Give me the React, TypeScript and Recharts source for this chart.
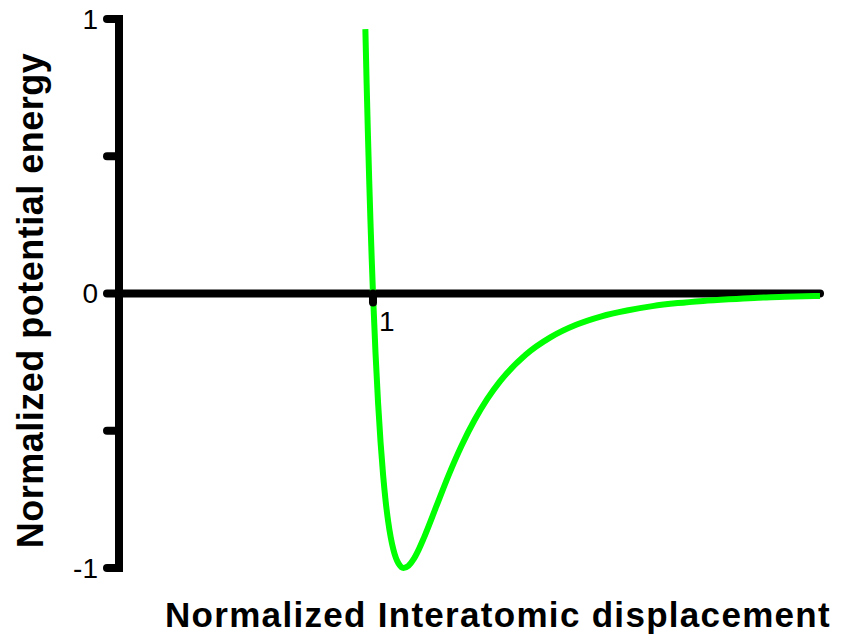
import { LineChart, Line, XAxis, YAxis, ReferenceLine, ReferenceDot } from "recharts";

// normalized interatomic displacement (r / sigma)
const displacement = [
  0.97, 0.975, 0.98, 0.985, 0.99, 0.995, 1.0, 1.01, 1.02, 1.03, 1.04, 1.05, 1.06, 1.07,
  1.08, 1.09, 1.1, 1.12, 1.14, 1.16, 1.18, 1.2, 1.25, 1.3, 1.35, 1.4, 1.45, 1.5, 1.6,
  1.7, 1.8, 1.9, 2.0, 2.1, 2.2, 2.3, 2.4, 2.5, 2.6, 2.7, 2.76,
];

// normalized potential energy at each displacement
const energy = [
  0.963, 0.764, 0.582, 0.416, 0.264, 0.126, 0.0, -0.218, -0.398, -0.544, -0.663, -0.758,
  -0.832, -0.889, -0.932, -0.963, -0.983, -1.0, -0.992, -0.968, -0.933, -0.891, -0.774,
  -0.657, -0.552, -0.461, -0.384, -0.32, -0.224, -0.159, -0.114, -0.083, -0.062, -0.046,
  -0.035, -0.027, -0.021, -0.016, -0.013, -0.01, -0.009,
];

const yTicks = [-1, -0.5, 0, 0.5, 1];
const yTickLabels: Record<string, string> = { "-1": "-1", "0": "0", "1": "1" };
const xTickValue = 1;

const yTitle = "Normalized potential energy";
const xTitle = "Normalized Interatomic displacement";

const data = displacement.map((r, i) => ({ r, v: energy[i] }));

const FONT = "'Liberation Sans', Arial, sans-serif";

function YTitle(props: any) {
  const { viewBox } = props;
  const cx = viewBox.x + 43;
  const cy = viewBox.y + viewBox.height / 2 + 7;
  return (
    <text
      x={cx}
      y={cy}
      transform={`rotate(-90, ${cx}, ${cy})`}
      textAnchor="middle"
      fontFamily={FONT}
      fontWeight="bold"
      fontSize={36}
      letterSpacing={0.5}
      fill="#000"
    >
      {yTitle}
    </text>
  );
}

function XTitle(props: any) {
  const { viewBox } = props;
  return (
    <text
      x={498}
      y={viewBox.y + 59}
      textAnchor="middle"
      fontFamily={FONT}
      fontWeight="bold"
      fontSize={35}
      letterSpacing={1.3}
      fill="#000"
    >
      {xTitle}
    </text>
  );
}

// short tick below the zero line with its label to the right
function XTick(props: any) {
  const { cx, cy } = props;
  return (
    <g>
      <line x1={cx} y1={cy} x2={cx} y2={cy + 9} stroke="#000" strokeWidth={8} strokeLinecap="round" />
      <text x={cx + 6} y={cy + 37} fontFamily={FONT} fontSize={28} fill="#000">
        {String(xTickValue)}
      </text>
    </g>
  );
}

export default function App() {
  return (
    <div style={{ position: "absolute", left: 0, top: 0, background: "#fff" }}>
      <LineChart width={849} height={638} data={data} margin={{ top: 19, right: 29, bottom: 0, left: 0 }}>
        <XAxis
          dataKey="r"
          type="number"
          domain={[0, 2.76]}
          ticks={[xTickValue]}
          tick={false}
          tickLine={false}
          axisLine={false}
          height={70}
          label={<XTitle />}
        />
        <YAxis
          type="number"
          domain={[-1, 1]}
          ticks={yTicks}
          interval={0}
          width={119}
          tickSize={12}
          tickMargin={9}
          axisLine={{ stroke: "#000", strokeWidth: 8, strokeLinecap: "square" }}
          tickLine={{ stroke: "#000", strokeWidth: 8, strokeLinecap: "round" }}
          tick={{ fill: "#000", fontSize: 28, fontFamily: FONT }}
          tickFormatter={(v: number) => yTickLabels[String(v)] ?? ""}
          label={<YTitle />}
        />
        <ReferenceLine y={0} stroke="#000" strokeWidth={8} strokeLinecap="round" />
        <ReferenceDot x={xTickValue} y={0} shape={<XTick />} />
        <Line
          type="monotone"
          dataKey="v"
          stroke="#00ff00"
          strokeWidth={6}
          dot={false}
          isAnimationActive={false}
        />
      </LineChart>
    </div>
  );
}
